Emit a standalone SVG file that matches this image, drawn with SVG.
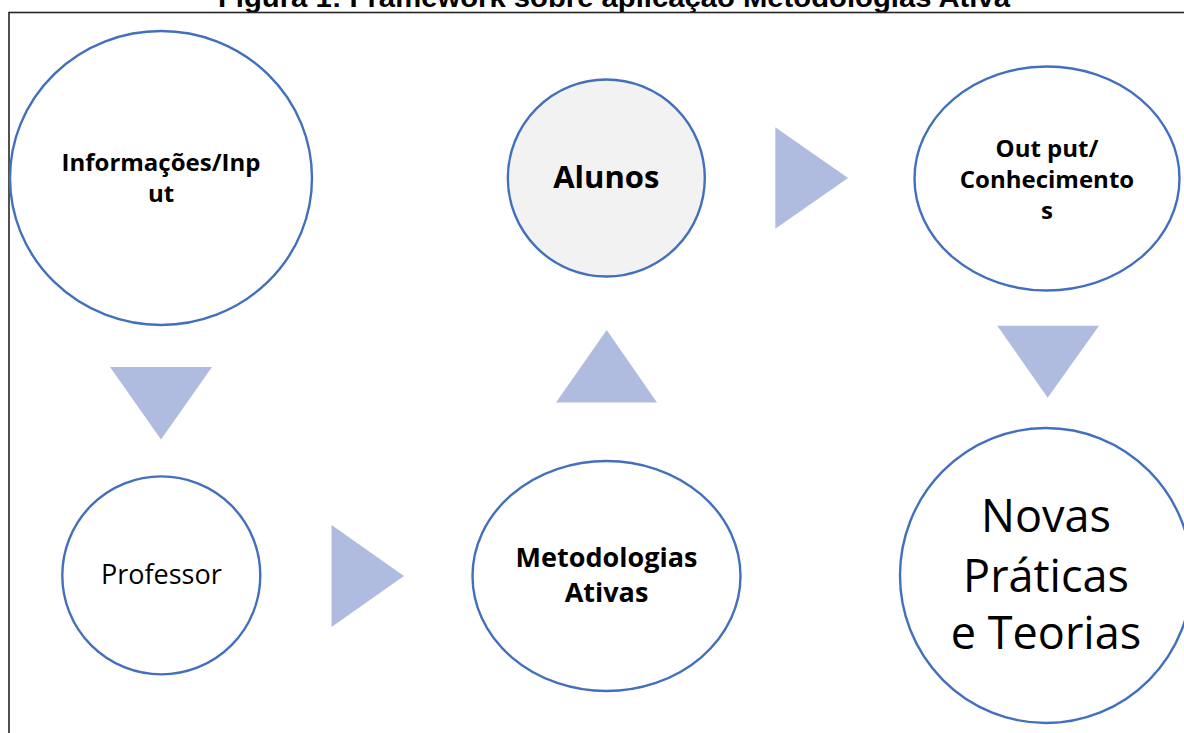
<svg xmlns="http://www.w3.org/2000/svg" width="1184" height="733" viewBox="0 0 1184 733">
<style>
.node{fill:#ffffff;stroke:#4270bd;stroke-width:2.4}
.gray{fill:#f2f2f2}
.tri{fill:#afbcdf}
.b{font-family:"Open Sans","Liberation Sans",sans-serif;font-weight:bold;fill:#000;text-anchor:middle}
.r{font-family:"Open Sans","Liberation Sans",sans-serif;fill:#000;text-anchor:middle}
</style>
<rect width="1184" height="733" fill="#ffffff"/>
<text x="218" y="7" font-family="Liberation Sans, Arial, sans-serif" font-weight="bold" font-size="27" textLength="792" lengthAdjust="spacingAndGlyphs" fill="#000">Figura 1: Framework sobre aplicação Metodologias Ativa</text>
<rect x="9" y="12.5" width="1200" height="800" fill="none" stroke="#262626" stroke-width="1.6"/>

<g id="connectors">
<polygon class="tri" points="110,367 212,367 161,439.5"/>
<polygon class="tri" points="331.5,525 331.5,627 404,576"/>
<polygon class="tri" points="556,402.5 657,402.5 606.7,330"/>
<polygon class="tri" points="775.3,127.3 775.3,228.7 848,178"/>
<polygon class="tri" points="997.3,325.7 1099,325.7 1047.7,397.7"/>
</g>

<g id="informacoes">
<ellipse class="node" cx="161" cy="178" rx="151" ry="147"/>
<text class="b" font-size="24" x="161" y="170.5">Informações/Inp</text>
<text class="b" font-size="24" x="161" y="202">ut</text>
</g>

<g id="alunos">
<circle class="node gray" cx="606.3" cy="178" r="98.5"/>
<text class="b" font-size="31" x="606.3" y="188.3">Alunos</text>
</g>

<g id="output">
<ellipse class="node" cx="1047" cy="178.5" rx="132.5" ry="112"/>
<text class="b" font-size="24" x="1047" y="156.5">Out put/</text>
<text class="b" font-size="24" x="1047" y="187.7">Conhecimento</text>
<text class="b" font-size="24" x="1047" y="219">s</text>
</g>

<g id="professor">
<circle class="node" cx="161.3" cy="575.4" r="99"/>
<text class="r" font-size="27" x="161.3" y="584.3">Professor</text>
</g>

<g id="metodologias">
<ellipse class="node" cx="606.5" cy="576" rx="134" ry="115"/>
<text class="b" font-size="27" x="606.5" y="566.7">Metodologias</text>
<text class="b" font-size="27" x="606.5" y="601.7">Ativas</text>
</g>

<g id="novas">
<ellipse class="node" cx="1046" cy="575.5" rx="146" ry="147.5"/>
<text class="r" font-size="45" x="1046" y="531.7">Novas</text>
<text class="r" font-size="45" x="1046" y="591.5">Práticas</text>
<text class="r" font-size="45" x="1046" y="649">e Teorias</text>
</g>
</svg>
